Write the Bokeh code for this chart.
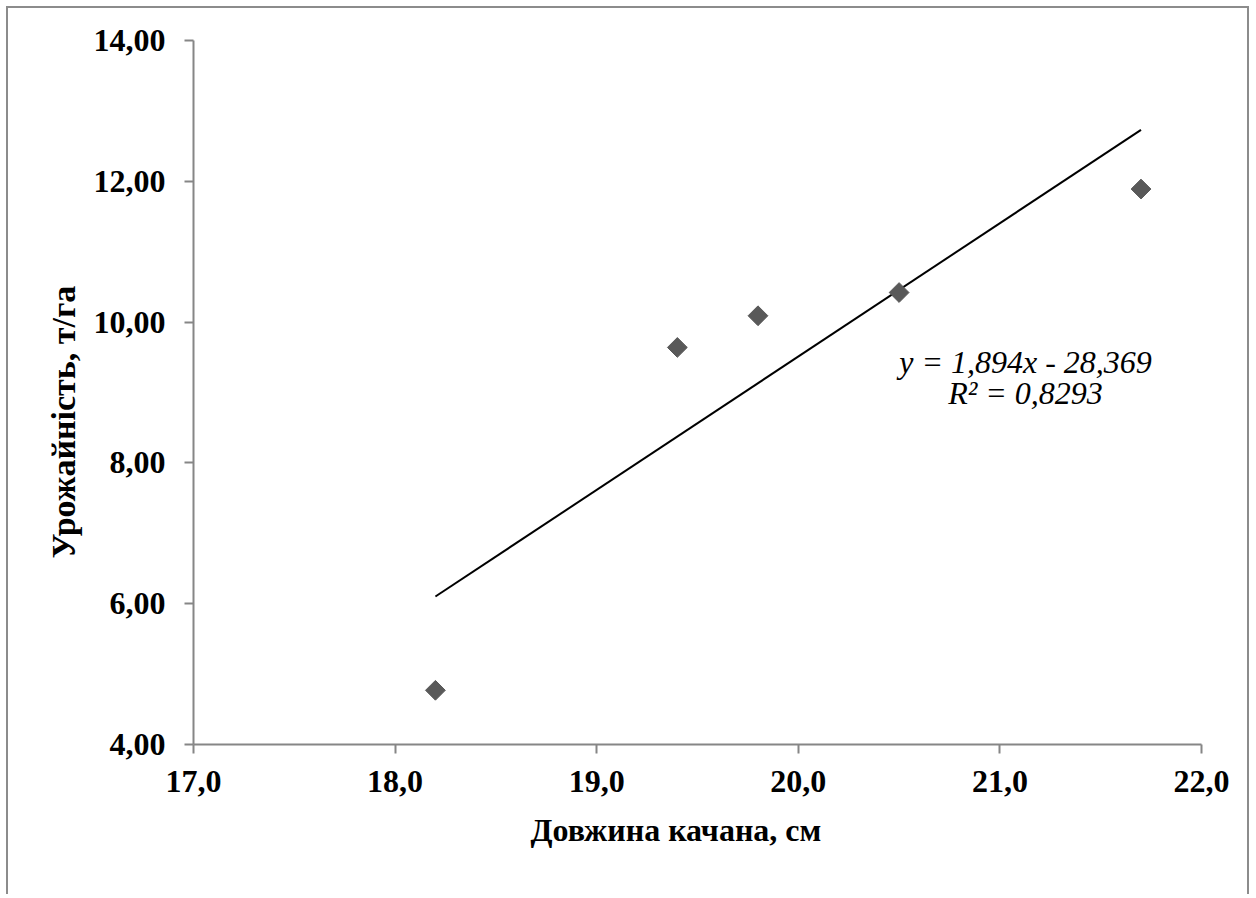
from bokeh.plotting import figure
from bokeh.models import FixedTicker, Label, Title
from bokeh.embed import file_html
from bokeh.resources import INLINE

# ---- data ----
ear_length = [18.2, 19.4, 19.8, 20.5, 21.7]
yield_t_ha = [4.77, 9.64, 10.09, 10.42, 11.89]
trend_slope = 1.894
trend_intercept = -28.369
eq_line1 = "y = 1,894x - 28,369"
eq_line2 = "R² = 0,8293"
x_ticks = [17, 18, 19, 20, 21, 22]
x_tick_labels = ["17,0", "18,0", "19,0", "20,0", "21,0", "22,0"]
y_ticks = [4, 6, 8, 10, 12, 14]
y_tick_labels = ["4,00", "6,00", "8,00", "10,00", "12,00", "14,00"]
x_title = "Довжина качана, см"
y_title = "Урожайність, т/га"

FONT = "Liberation Serif"
AXIS_COLOR = "#868686"
FS = "32px"

p = figure(width=1243, height=888, x_range=(17, 22), y_range=(4, 14),
           output_backend="svg", toolbar_location=None,
           min_border_left=185, min_border_right=50,
           min_border_top=32, min_border_bottom=152)
p.styles = {"margin-left": "6px", "margin-top": "6px",
            "border-left": "2px solid #8c8c8c",
            "border-top": "2px solid #8c8c8c",
            "border-right": "2px solid #8c8c8c"}
p.outline_line_color = None
p.xgrid.visible = False
p.ygrid.visible = False

# trend line
tx = [min(ear_length), max(ear_length)]
ty = [trend_slope * v + trend_intercept for v in tx]
p.line(tx, ty, line_color="black", line_width=2)

# points
p.scatter(ear_length, yield_t_ha, marker="square", size=14, angle=0.785398,
          fill_color="#595959", line_color="#595959")

for ax, ticks, labels in ((p.xaxis, x_ticks, x_tick_labels),
                          (p.yaxis, y_ticks, y_tick_labels)):
    ax.ticker = FixedTicker(ticks=ticks)
    ax.major_label_overrides = {t: l for t, l in zip(ticks, labels)}
    ax.axis_line_color = AXIS_COLOR
    ax.axis_line_width = 2
    ax.major_tick_line_color = AXIS_COLOR
    ax.major_tick_line_width = 2
    ax.major_tick_out = 9
    ax.major_tick_in = 0
    ax.minor_tick_line_color = None
    ax.major_label_text_font = FONT
    ax.major_label_text_font_style = "bold"
    ax.major_label_text_font_size = FS
    ax.major_label_text_color = "black"

p.xaxis.major_label_standoff = 17
p.yaxis.major_label_standoff = 19

p.add_layout(Title(text=x_title, text_font=FONT, text_font_style="bold",
                   text_font_size=FS, text_color="black", align="left",
                   offset=337, standoff=31), "below")
p.add_layout(Title(text=y_title, text_font=FONT, text_font_style="bold",
                   text_font_size="34px", text_color="black", align="left",
                   offset=186, standoff=18), "left")

p.add_layout(Label(x=21.127, y=9.43, text=eq_line1, text_font=FONT,
                   text_font_style="italic", text_font_size=FS,
                   text_color="black",
                   text_align="center", text_baseline="alphabetic"))
p.add_layout(Label(x=21.127, y=8.99, text=eq_line2, text_font=FONT,
                   text_font_style="italic", text_font_size=FS,
                   text_color="black",
                   text_align="center", text_baseline="alphabetic"))

open("out.html", "w").write(file_html(p, INLINE))
